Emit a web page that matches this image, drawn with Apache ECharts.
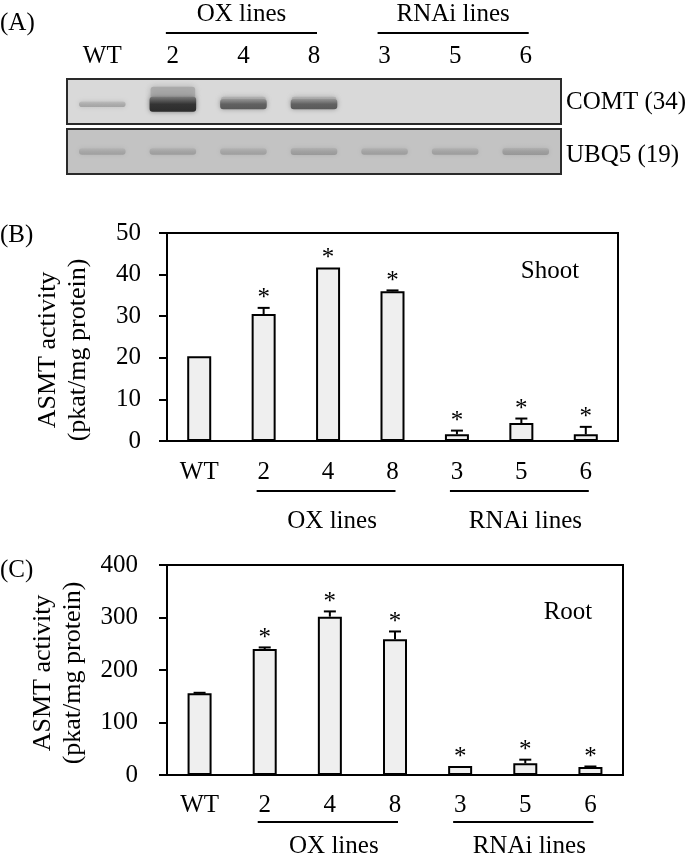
<!DOCTYPE html>
<html><head><meta charset="utf-8">
<script src="https://cdn.jsdelivr.net/npm/echarts@6/dist/echarts.min.js"></script>
<style>html,body{margin:0;padding:0;background:#fff}#c{width:700px;height:858px}</style>
</head><body><div id="c"></div>
<script>
const lanes = ['WT','2','4','8','3','5','6'];
const comtBand = [0.25,1.0,0.72,0.72,0,0,0];
const ubq5Band = [0.36,0.40,0.38,0.44,0.40,0.40,0.46];
const shootMean = [20.4,30.5,41.7,36.0,1.6,4.3,1.6];
const shootErr  = [0,1.5,0,0.2,0.9,1.1,1.8];
const rootMean  = [155.6,240,301.6,258.4,17,22.2,15.2];
const rootErr   = [1,3,10,15,0,7,1];
const signif    = [0,1,1,1,1,1,1];
const groupNames = ['OX lines','RNAi lines'];
const groupFrom  = [1,4];
const groupTo    = [3,6];
const shootTicks = {min:0,max:50,interval:10};
const rootTicks  = {min:0,max:400,interval:100};
const yTitle = 'ASMT activity\n(pkat/mg protein)';

const FF = "'Liberation Serif','Times New Roman',serif";
const FONT = '25px ' + FF;
const chart = echarts.init(document.getElementById('c'), null, {renderer:'canvas'});

function gray(v){ v = Math.max(0, Math.min(255, Math.round(v))); return `rgb(${v},${v},${v})`; }

function bandSeries(idx, data, base, span, yc, haze){
  return {type:'custom', xAxisIndex:idx, yAxisIndex:idx, silent:true,
    data: data.map((v,i)=>[i,v]),
    encode:{x:0,y:1},
    renderItem(params, api){
      const v = api.value(1);
      if (v <= 0) return null;
      const c = api.coord([api.value(0), yc]);
      const w = api.size([1,0])[0]*0.66;
      const h = 5 + 10*v*v;
      const g = base - span*v;
      const gl = base - span*v*0.55;
      const ch = [];
      const hh = haze*v*v*v;
      if (hh > 1) ch.push({type:'rect', shape:{x:c[0]-w/2+1, y:c[1]-h/2-hh+2, width:w-2, height:hh, r:3},
         style:{fill:gray(base - span*0.3*v), shadowBlur:6, shadowColor:gray(base - span*0.3*v), opacity:0.8}});
      ch.push({type:'rect', shape:{x:c[0]-w/2, y:c[1]-h/2, width:w, height:h, r:3},
         style:{fill:{type:'linear',x:0,y:0,x2:0,y2:1,colorStops:[
            {offset:0,color:gray(gl)},{offset:0.5,color:gray(g)},{offset:1,color:gray(g-8)}]},
           shadowBlur:5, shadowColor:gray(gl)}});
      return {type:'group', children:ch};
    }};
}

function errSeries(ai, means, errs){
  return {type:'custom', xAxisIndex:ai, yAxisIndex:ai, z:5, silent:true,
    data: means.map((m,i)=>[i, m, m+errs[i], signif[i], errs[i]]),
    encode:{x:0, y:[1,2]},
    renderItem(params, api){
      const i = api.value(0);
      const top = api.coord([i, api.value(1)]);
      const et = api.coord([i, api.value(2)]);
      const ch = [];
      if (api.value(4) > 0){
        ch.push({type:'line', shape:{x1:top[0],y1:top[1],x2:et[0],y2:et[1]}, style:{stroke:'#000',lineWidth:2}});
        ch.push({type:'line', shape:{x1:et[0]-6,y1:et[1],x2:et[0]+6,y2:et[1]}, style:{stroke:'#000',lineWidth:2}});
      }
      if (api.value(3)) ch.push({type:'text', style:{text:'*', x:et[0], y:et[1]-9, align:'center', verticalAlign:'middle', font:FONT, fill:'#000'}});
      return {type:'group', children:ch};
    }};
}

function valAxis(gi, t, gap, pad, lm){
  return {type:'value', gridIndex:gi, min:t.min, max:t.max, interval:t.interval,
    axisLine:{show:true, lineStyle:{color:'#000', width:2}},
    axisTick:{show:true, inside:false, length:8, lineStyle:{color:'#000', width:2}},
    splitLine:{show:false},
    axisLabel:{color:'#000', fontFamily:FF, fontSize:25, margin:lm},
    name:yTitle, nameLocation:'middle', nameRotate:90, nameGap:gap,
    nameTextStyle:{color:'#000', fontFamily:FF, fontSize:26, lineHeight:30, padding:[0,pad,0,0]}};
}
function catAxis(gi, margin){
  return {type:'category', gridIndex:gi, data:lanes,
    axisLine:{show:true, lineStyle:{color:'#000', width:2}},
    axisTick:{show:false},
    axisLabel:{color:'#000', fontFamily:FF, fontSize:25, margin:margin, interval:0}};
}

const option = {
  animation:false,
  backgroundColor:'#fff',
  grid:[
    {left:67, top:79, width:494, height:45, show:true, backgroundColor:'#d9d9d9', borderColor:'#2a2a2a', borderWidth:2},
    {left:67, top:129, width:494, height:45, show:true, backgroundColor:'#c3c3c3', borderColor:'#2a2a2a', borderWidth:2},
    {left:167, top:233, width:451, height:208, show:true, borderColor:'#000', borderWidth:2, backgroundColor:'transparent'},
    {left:167, top:565, width:456, height:210, show:true, borderColor:'#000', borderWidth:2, backgroundColor:'transparent'}
  ],
  xAxis:[
    {type:'category', gridIndex:0, data:lanes, position:'top',
     axisLine:{show:false}, axisTick:{show:false},
     axisLabel:{color:'#000', fontFamily:FF, fontSize:25, margin:10, interval:0}},
    {type:'category', gridIndex:1, data:lanes, show:false},
    catAxis(2, 19),
    catAxis(3, 18)
  ],
  yAxis:[
    {type:'value', gridIndex:0, min:0, max:1, show:false},
    {type:'value', gridIndex:1, min:0, max:1, show:false},
    valAxis(2, shootTicks, 74, 26, 26),
    valAxis(3, rootTicks, 79, 6, 29)
  ],
  series:[
    bandSeries(0, comtBand, 212, 160, 0.44, 12),
    bandSeries(1, ubq5Band, 196, 80, 0.5, 0),
    {type:'bar', xAxisIndex:2, yAxisIndex:2, data:shootMean, barWidth:24, silent:true,
     itemStyle:{color:'#efefef', borderColor:'#000', borderWidth:2}},
    errSeries(2, shootMean, shootErr),
    {type:'bar', xAxisIndex:3, yAxisIndex:3, data:rootMean, barWidth:24, silent:true,
     itemStyle:{color:'#efefef', borderColor:'#000', borderWidth:2}},
    errSeries(3, rootMean, rootErr)
  ]
};
chart.setOption(option);

function txt(t, x, y, align){
  return {type:'text', x:x, y:y, silent:true, style:{text:t, font:FONT, fill:'#000', align:align||'left', verticalAlign:'middle'}};
}
const g = [
  txt('(A)', 0, 23), txt('(B)', 0, 235), txt('(C)', 0, 570),
  txt('COMT (34)', 566, 102), txt('UBQ5 (19)', 566, 155),
  txt('Shoot', 550, 271, 'center'), txt('Root', 568, 612, 'center')
];
function addGroups(xi, yi, yBase, lineOff, textOff){
  const y0 = yi === null ? yBase : chart.convertToPixel({yAxisIndex:yi}, 0);
  for (let k=0;k<groupNames.length;k++){
    const x1 = chart.convertToPixel({xAxisIndex:xi}, groupFrom[k]) - 7;
    const x2 = chart.convertToPixel({xAxisIndex:xi}, groupTo[k]) + 3;
    g.push({type:'line', silent:true, shape:{x1:x1, y1:y0+lineOff, x2:x2, y2:y0+lineOff}, style:{stroke:'#000', lineWidth:2}});
    g.push(txt(groupNames[k], (x1+x2)/2 + (yi===null?0:6), y0+textOff, 'center'));
  }
}
addGroups(0, null, 0, 33, 14);
addGroups(2, 2, 0, 50, 80);
addGroups(3, 3, 0, 47, 71);
chart.setOption({graphic:g});
</script></body></html>
